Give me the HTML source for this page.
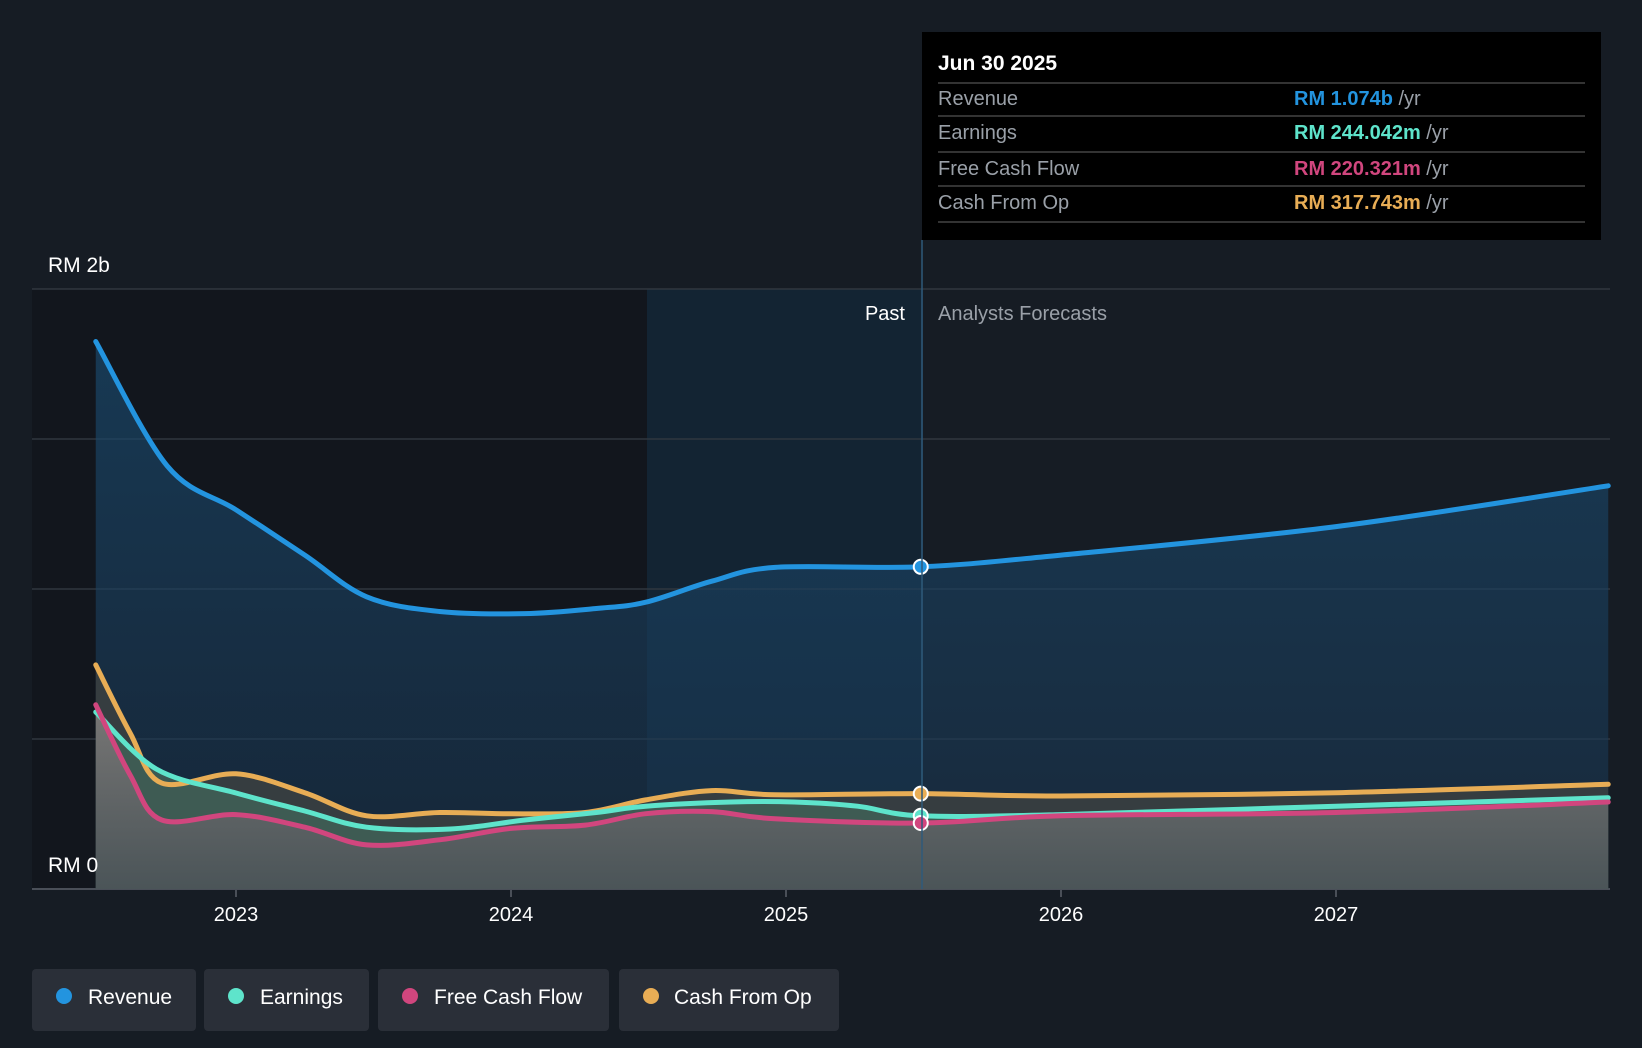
<!DOCTYPE html>
<html><head><meta charset="utf-8"><style>
body{margin:0;background:#161c24;font-family:"Liberation Sans",sans-serif;}
svg{display:block}
</style></head><body>
<svg id="c" width="1642" height="1048" xmlns="http://www.w3.org/2000/svg">
<defs>
<linearGradient id="gRev" x1="0" y1="0" x2="0" y2="1"><stop offset="0" stop-color="#1a4a6e" stop-opacity="0.75"/><stop offset="1" stop-color="#1a3550" stop-opacity="0.6"/></linearGradient>
<linearGradient id="gGray" x1="0" y1="0" x2="0" y2="1"><stop offset="0" stop-color="#8a7f80" stop-opacity="0.85"/><stop offset="1" stop-color="#50525a" stop-opacity="0.8"/></linearGradient>
</defs>
<rect x="0" y="0" width="1642" height="1048" fill="#161c24"/>
<rect x="32" y="289" width="615" height="600" fill="#12161d"/>
<rect x="647" y="289" width="276" height="600" fill="#13283a" opacity="0.7"/>
<g id="grid"></g>
<g id="series"></g>
<line x1="922" y1="240" x2="922" y2="889" stroke="#2f5a7a" stroke-width="1.5"/>
<text x="48" y="272" fill="#fff" font-size="21">RM 2b</text>
<text x="48" y="872" fill="#fff" font-size="21">RM 0</text>
<text x="905" y="320" fill="#fff" font-size="20" text-anchor="end">Past</text>
<text x="938" y="320" fill="#9aa0a8" font-size="20">Analysts Forecasts</text>
<g id="xt"></g>
<g>
<rect x="922" y="32" width="679" height="208" fill="#000"/>
<text x="938" y="70" fill="#fff" font-size="21" font-weight="bold">Jun 30 2025</text>
<g stroke="#444" stroke-width="1.5"><line x1="938" y1="83" x2="1585" y2="83"/><line x1="938" y1="116" x2="1585" y2="116"/><line x1="938" y1="152" x2="1585" y2="152"/><line x1="938" y1="186" x2="1585" y2="186"/><line x1="938" y1="222" x2="1585" y2="222"/></g>
<g font-size="20" fill="#9aa0a8"><text x="938" y="105">Revenue</text><text x="938" y="139">Earnings</text><text x="938" y="175">Free Cash Flow</text><text x="938" y="209">Cash From Op</text></g>
<g font-size="20" font-weight="bold"><text x="1294" y="105" fill="#2394df">RM 1.074b <tspan fill="#9aa0a8" font-weight="normal">/yr</tspan></text><text x="1294" y="139" fill="#5ee4cb">RM 244.042m <tspan fill="#9aa0a8" font-weight="normal">/yr</tspan></text><text x="1294" y="175" fill="#d1467e">RM 220.321m <tspan fill="#9aa0a8" font-weight="normal">/yr</tspan></text><text x="1294" y="209" fill="#e8ad55">RM 317.743m <tspan fill="#9aa0a8" font-weight="normal">/yr</tspan></text></g>
</g>
<g font-size="21" fill="#fff">
<g><rect x="32" y="969" width="164" height="62" rx="4" fill="#2a2f38"/><circle cx="64" cy="996" r="8" fill="#2394df"/><text x="88" y="1004">Revenue</text></g>
<g><rect x="204" y="969" width="165" height="62" rx="4" fill="#2a2f38"/><circle cx="236" cy="996" r="8" fill="#5ee4cb"/><text x="260" y="1004">Earnings</text></g>
<g><rect x="378" y="969" width="231" height="62" rx="4" fill="#2a2f38"/><circle cx="410" cy="996" r="8" fill="#d1467e"/><text x="434" y="1004">Free Cash Flow</text></g>
<g><rect x="619" y="969" width="220" height="62" rx="4" fill="#2a2f38"/><circle cx="651" cy="996" r="8" fill="#e8ad55"/><text x="674" y="1004">Cash From Op</text></g>
</g>
</svg>
<script>
const revT=[2022.49,2022.75,2023.0,2023.25,2023.475,2023.74,2024.05,2024.31,2024.49,2024.73,2024.96,2025.49,2026.0,2027.0,2027.99];
const revV=[1.825,1.41,1.264,1.113,0.974,0.925,0.918,0.935,0.956,1.026,1.072,1.074,1.113,1.208,1.344];
const earnT=[2022.49,2022.71,2023.0,2023.25,2023.475,2023.78,2024.05,2024.31,2024.49,2024.8,2025.03,2025.26,2025.49,2026.0,2027.0,2027.99];
const earnV=[0.59,0.40,0.32,0.26,0.206,0.20,0.23,0.255,0.276,0.29,0.29,0.276,0.244,0.248,0.276,0.304];
const fcfT=[2022.49,2022.615,2022.73,2023.0,2023.25,2023.475,2023.74,2024.0,2024.27,2024.49,2024.73,2024.96,2025.49,2026.0,2027.0,2027.99];
const fcfV=[0.614,0.38,0.23,0.248,0.206,0.147,0.164,0.202,0.213,0.251,0.258,0.234,0.220,0.244,0.255,0.29];
const cfoT=[2022.49,2022.615,2022.73,2023.0,2023.25,2023.475,2023.74,2024.0,2024.27,2024.49,2024.73,2024.96,2025.49,2026.0,2027.0,2027.99];
const cfoV=[0.747,0.52,0.353,0.384,0.321,0.244,0.255,0.251,0.255,0.297,0.328,0.314,0.318,0.31,0.321,0.349];
const yTicks=[0,0.5,1,1.5,2];
const xYears=[2023,2024,2025,2026,2027];
const NS='http://www.w3.org/2000/svg';
const X=t=>236+(t-2023)*275;
const Y=v=>889-v*300;
function mk(tag,attrs,parent){const e=document.createElementNS(NS,tag);for(const k in attrs)e.setAttribute(k,attrs[k]);parent.appendChild(e);return e;}
function path(T,V){const p=T.map((t,i)=>[X(t),Y(V[i])]);let d='M'+p[0][0]+','+p[0][1];
for(let i=0;i<p.length-1;i++){const p0=p[Math.max(i-1,0)],p1=p[i],p2=p[i+1],p3=p[Math.min(i+2,p.length-1)];
const c1=[p1[0]+(p2[0]-p0[0])/6,p1[1]+(p2[1]-p0[1])/6],c2=[p2[0]-(p3[0]-p1[0])/6,p2[1]-(p3[1]-p1[1])/6];
d+=` C${c1[0]},${c1[1]} ${c2[0]},${c2[1]} ${p2[0]},${p2[1]}`;}return d;}
const grid=document.getElementById('grid');
yTicks.forEach(v=>{const l=mk('line',{x1:32,x2:1610,y1:Y(v),y2:Y(v),stroke:v===0?'#4a4f58':'#30363f','stroke-width':v===0?2:1.5},grid);

});
const xt=document.getElementById('xt');
xYears.forEach(y=>{const l=mk('line',{x1:X(y),x2:X(y),y1:889,y2:897,stroke:'#4a4f58','stroke-width':2},xt);


const t=mk('text',{x:X(y),y:921,fill:'#fff','font-size':20,'text-anchor':'middle'},xt);t.textContent=y;

});
const S=document.getElementById('series');
const series=[['revenue',revT,revV,'#2394df','url(#gRev)'],['cash-from-op',cfoT,cfoV,'#e8ad55','#3a3f40'],['earnings',earnT,earnV,'#5ee4cb','#3f5e55'],['free-cash-flow',fcfT,fcfV,'#d1467e','url(#gGray)']];
series.forEach(([n,T,V,c,f])=>{const d=path(T,V);
const a=mk('path',{d:d+` L${X(T[T.length-1])},889 L${X(T[0])},889 Z`,fill:f,opacity:0.9},S);

});
series.forEach(([n,T,V,c])=>{const l=mk('path',{d:path(T,V),fill:'none',stroke:c,'stroke-width':5,'stroke-linecap':'round'},S);

});
series.forEach(([n,T,V,c])=>{const i=T.indexOf(2025.49);const m=mk('circle',{cx:X(T[i]),cy:Y(V[i]),r:7,fill:c,stroke:'#fff','stroke-width':2},S);

});
</script>
</body></html>
